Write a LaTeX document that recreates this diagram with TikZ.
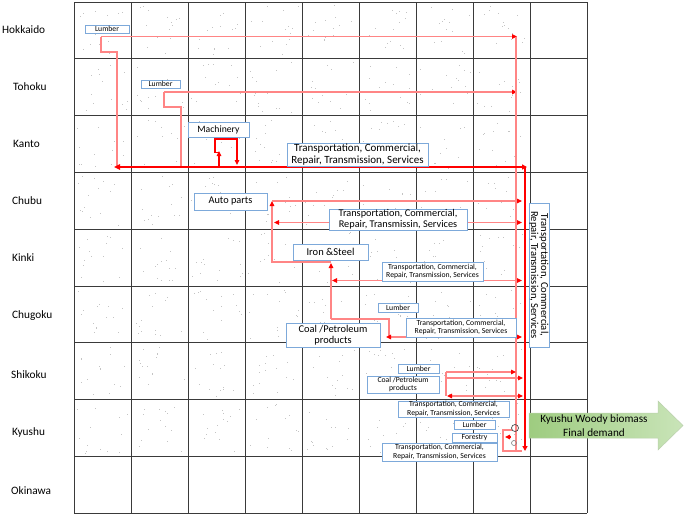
\documentclass[tikz,border=0pt]{standalone}
\usepackage{fontspec}
\setmainfont{Carlito}
\usetikzlibrary{arrows.meta,shapes.geometric}
\definecolor{gridc}{HTML}{3A3A3A}
\definecolor{boxc}{HTML}{7DA9DA}
\definecolor{pinkc}{HTML}{FF8585}
\definecolor{redc}{HTML}{FF0000}
\definecolor{dotc}{HTML}{C4C4C4}
\definecolor{greenA}{HTML}{9ECC80}
\definecolor{greenB}{HTML}{C9E4B8}
\tikzset{
  gridline/.style={draw=gridc,line width=0.9pt},
  bx/.style={draw=boxc,fill=white,line width=0.9pt,inner sep=0pt,align=center},
  fsmall/.style={font=\fontsize{7.7}{8.4}\selectfont},
  fmid/.style={font=\fontsize{10.3}{10.8}\selectfont},
  fbig/.style={font=\fontsize{11}{11.5}\selectfont},
  rowlbl/.style={anchor=west,font=\fontsize{11.3}{13}\selectfont,inner sep=0pt},
  pinkln/.style={draw=pinkc,line width=1.2pt},
  pinkar/.style={pinkln,-{Triangle[length=5pt,width=4.5pt,color=redc]}},
  pinkdbl/.style={pinkln,{Triangle[length=5pt,width=4.5pt,color=redc]}-{Triangle[length=5pt,width=4.5pt,color=redc]}},
  redln/.style={draw=redc,line width=1.7pt},
  redar/.style={redln,-{Triangle[length=5pt,width=5pt]}},
  redthin/.style={draw=redc,line width=1.2pt,-{Triangle[length=5pt,width=4.5pt]}},
}
\begin{document}
\begin{tikzpicture}[x=1pt,y=-1pt]
\useasboundingbox (0,0) rectangle (685,515);
\fill[white] (0,0) rectangle (685,515);
% scattered matrix dots
\pgfmathsetseed{7}
\foreach \c in {0,...,7}{
  \foreach \r in {0,...,7}{
    \foreach \k in {1,...,14}{
      \pgfmathsetmacro\xx{74+57*\c+3+51*rnd}
      \pgfmathsetmacro\yy{2+56.8*\r+3+50*rnd}
      \fill[dotc] (\xx,\yy) rectangle ++(0.9,0.9);
    }
  }
}
% grid
\foreach \i in {0,...,9}{
  \draw[gridline] ({74+57*\i},2) -- ({74+57*\i},513.2);
  \draw[gridline] (74,{2+56.8*\i}) -- (587,{2+56.8*\i});
}
% row labels
\node[rowlbl] (rHok) at (2,29.5) {Hokkaido};
\node[rowlbl] (rToh) at (13,87) {Tohoku};
\node[rowlbl] (rKan) at (13,144) {Kanto};
\node[rowlbl] (rChb) at (12,201) {Chubu};
\node[rowlbl] (rKin) at (12,258) {Kinki};
\node[rowlbl] (rChg) at (12,316) {Chugoku};
\node[rowlbl] (rShi) at (11,375) {Shikoku};
\node[rowlbl] (rKyu) at (12,432) {Kyushu};
\node[rowlbl] (rOki) at (11,491) {Okinawa};
% pink flows
\coordinate (hA) at (101,36.5);
\coordinate (tA) at (164,92);
\draw[pinkar] (hA) -- (517,36.5);
\draw[pinkln] (hA) -- (101,52) -- (117,52) -- (117,167);
\draw[pinkar] (tA) -- (517,92);
\draw[pinkln] (tA) -- (164,107) -- (181,107) -- (181,167);
\draw[pinkln] (516,36.5) -- (516,452);
% Chubu
\draw[pinkar] (331,262) -- (272,262) -- (272,201);
\draw[pinkar] (272,201) -- (522,201);
\draw[pinkdbl] (274,222.5) -- (522,222.5);
% Kinki
\draw[pinkar] (331,319) -- (331,263);
\draw[pinkdbl] (332,280.5) -- (522,280.5);
% Chugoku
\draw[pinkln] (331,319) -- (389,319) -- (389,337);
\draw[pinkdbl] (386,337) -- (522,337);
% Shikoku
\draw[pinkar] (446,372) -- (516,372);
\draw[pinkar] (446,378) -- (523,378);
\draw[pinkln] (446,372) -- (446,396);
\draw[pinkdbl] (447,396) -- (523,396);
% Kyushu small
\draw[pinkln] (512,430) -- (503,430) -- (503,451) -- (522,451);
\draw[redthin] (511,437) -- (505,437);
\draw[draw=gray!60!black,line width=0.7pt] (515,428) circle (3.5);
\draw[draw=gray,line width=0.6pt] (514,443) circle (2.5);
% thick red flows
\draw[redln,{Triangle[length=6pt,width=5.5pt]}-{Triangle[length=5pt,width=5pt]}] (114,167) -- (527,167);
\draw[redar] (525,167) -- (525,451);
\draw[redthin] (219,166) -- (219,151);
\draw[redthin] (219,152.5) -- (215,152.5) -- (215,139) -- (237,139) -- (237,165);
% boxes
\node[bx,fsmall,minimum width=44,minimum height=8] (lumH) at (107,29) {Lumber};
\node[bx,fsmall,minimum width=39,minimum height=8] (lumT) at (160.5,84) {Lumber};
\node[bx,font=\fontsize{9.7}{11}\selectfont,minimum width=61,minimum height=15] (mach) at (218.5,129.5) {Machinery};
\node[bx,fbig,minimum width=141,minimum height=23] (tcK) at (357.5,154.5) {Transportation, Commercial,\\Repair, Transmission, Services};
\node[bx,fmid,minimum width=73,minimum height=17] (auto) at (230.5,201.5) {Auto parts};
\node[bx,fmid,minimum width=138,minimum height=21] (tcC) at (398,219.5) {Transportation, Commercial,\\Repair, Transmissin, Services};
\node[bx,font=\fontsize{10.5}{11}\selectfont,minimum width=75,minimum height=16] (iron) at (330.5,252) {Iron \&Steel};
\node[bx,fsmall,minimum width=101,minimum height=19] (tcKi) at (432.5,271.5) {Transportation, Commercial,\\Repair, Transmission, Services};
\node[bx,fsmall,minimum width=40,minimum height=9] (lumCg) at (398,307.5) {Lumber};
\node[bx,font=\fontsize{10.4}{11.4}\selectfont,minimum width=94,minimum height=24] (coal) at (333,335) {Coal /Petroleum\\products};
\node[bx,fsmall,minimum width=110,minimum height=19] (tcCg) at (461,327.5) {Transportation, Commercial,\\Repair, Transmission, Services};
\node[bx,font=\fontsize{10.6}{10}\selectfont,rotate=-90,minimum width=144,minimum height=20] (vert) at (539,275) {Transportation, Commercial,\\Repair, Transmission, Services};
\node[bx,fsmall,minimum width=41,minimum height=9] (lumS) at (418.5,368.5) {Lumber};
\node[bx,fsmall,minimum width=72,minimum height=17] (coalS) at (403,384.5) {Coal /Petroleum\\products};
\node[bx,fsmall,minimum width=111,minimum height=16] (tcKy) at (453.5,409) {Transportation, Commercial,\\Repair, Transmission, Services};
\node[bx,fsmall,minimum width=41,minimum height=9] (lumKy) at (474.5,424.5) {Lumber};
\node[bx,fsmall,minimum width=45,minimum height=9] (forest) at (474.5,437.5) {Forestry};
\node[bx,fsmall,minimum width=115,minimum height=18] (tcKy2) at (439.5,452) {Transportation, Commercial,\\Repair, Transmission, Services};
% green arrow
\shade[left color=greenA,right color=greenB,draw=greenB!80!gray,line width=0.5pt]
  (529,413) -- (658,413) -- (658,401) -- (683,425.5) -- (658,450) -- (658,438) -- (529,438) -- cycle;
\node[font=\fontsize{11.2}{13.5}\selectfont,align=center,inner sep=0pt] (kfd) at (594,425.5) {Kyushu Woody biomass\\Final demand};
\end{tikzpicture}
\end{document}
